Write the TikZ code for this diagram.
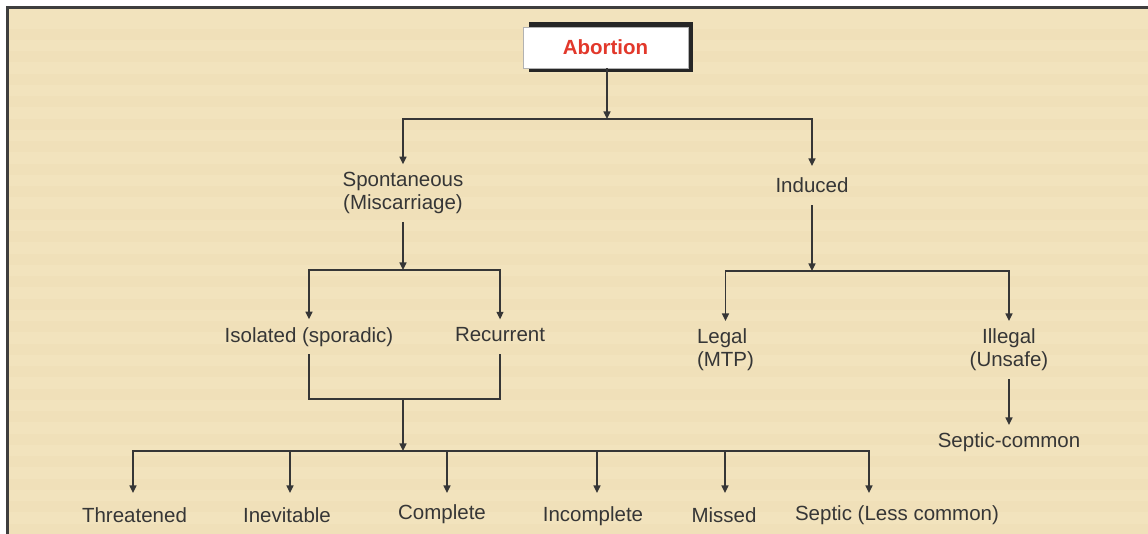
\documentclass[tikz,border=0pt]{standalone}
\usepackage{fontspec}
\setmainfont{Liberation Sans}
\usetikzlibrary{arrows.meta}
\definecolor{bgc}{HTML}{F2E3BD}
\definecolor{stripe}{HTML}{F0E0B9}
\definecolor{ink}{HTML}{363636}
\definecolor{redt}{HTML}{E2382B}
\definecolor{framec}{HTML}{3E3E3E}
\begin{document}
\begin{tikzpicture}[x=1pt,y=1pt,
  lbl/.style={inner sep=0pt, outer sep=0pt, outer ysep=8pt, text=ink,
    font=\fontsize{20.5}{23}\selectfont, align=center},
  ln/.style={draw=ink, line width=1.3pt},
  arr/.style={ln, -{Triangle[length=7.5pt,width=7pt]}},
  rootbox/.style={draw=gray!60, line width=0.8pt, fill=white,
    minimum width=165pt, minimum height=41pt, inner sep=0pt,
    font=\bfseries\fontsize{20.5}{22.5}\selectfont, text=redt}
  ]
\useasboundingbox (0,0) rectangle (1148,534);
% background
\fill[white] (0,0) rectangle (1148,534);
\fill[bgc] (7,0) rectangle (1148,527);
\foreach \k in {0,...,22} {
  \fill[stripe] (9,{505-\k*22.5}) rectangle (1148,{494-\k*22.5});
}
\draw[framec, line width=3pt] (7.5,0) -- (7.5,526.5) -- (1148,526.5);

% root
\fill[black!85] (529,512) rectangle (693,462);
\node[rootbox] (abort) at (605.5,486.5) {Abortion};

% level 1
\coordinate (j1) at (607,415);
\node[lbl] (spont) at (403,341) {Spontaneous\\(Miscarriage)};
\node[lbl, outer ysep=12pt] (ind) at (812,348.5) {Induced};
\draw[arr] (j1 |- abort.south) -- (j1);
\draw[arr] (j1) -| (spont.north);
\draw[arr] (j1) -| (ind.north);

% spontaneous branch
\coordinate (j2) at (403,264);
\node[lbl] (iso) at (309,197.2) {Isolated (sporadic)};
\node[lbl] (rec) at (500,199.5) {Recurrent};
\draw[arr] (spont.south) -- (j2);
\draw[arr] (j2) -| (iso.north);
\draw[arr] (j2) -| (rec.north);

\coordinate (j3) at (403,135);
\draw[ln] (iso.south) |- (j3) -| (rec.south |- iso.south);

\coordinate (j4) at (403,83);
\draw[arr] (j3) -- (j4);

% bottom labels
\node[lbl, anchor=base] (thr) at (134.5,11) {Threatened};
\node[lbl, anchor=base] (inev) at (287,11) {Inevitable};
\node[lbl, anchor=base] (comp) at (442,14) {Complete};
\node[lbl, anchor=base] (incomp) at (593,12.3) {Incomplete};
\node[lbl, anchor=base] (missed) at (724,11) {Missed};
\node[lbl, anchor=base] (septic) at (897,13) {Septic (Less common)};

\coordinate (t1) at (133,41);
\coordinate (t2) at (290,41);
\coordinate (t3) at (447,41);
\coordinate (t4) at (597,41);
\coordinate (t5) at (725,41);
\coordinate (t6) at (869,41);
\foreach \t in {t1,t2,t3,t4,t5,t6} {
  \draw[arr] (j4) -| (\t);
}

% induced branch
\coordinate (j5) at (812,263);
\node[lbl, align=left] (legal) at (725.5,184) {Legal\\(MTP)};
\node[lbl] (illegal) at (1009,184) {Illegal\\(Unsafe)};
\draw[arr] (ind.south) -- (j5);
\draw[arr] (j5) -| (legal.north);
\draw[arr] (j5) -| (illegal.north);

\node[lbl] (sepc) at (1009,91.5) {Septic-common};
\draw[arr] (illegal.south) -- (sepc.north);
\end{tikzpicture}
\end{document}
